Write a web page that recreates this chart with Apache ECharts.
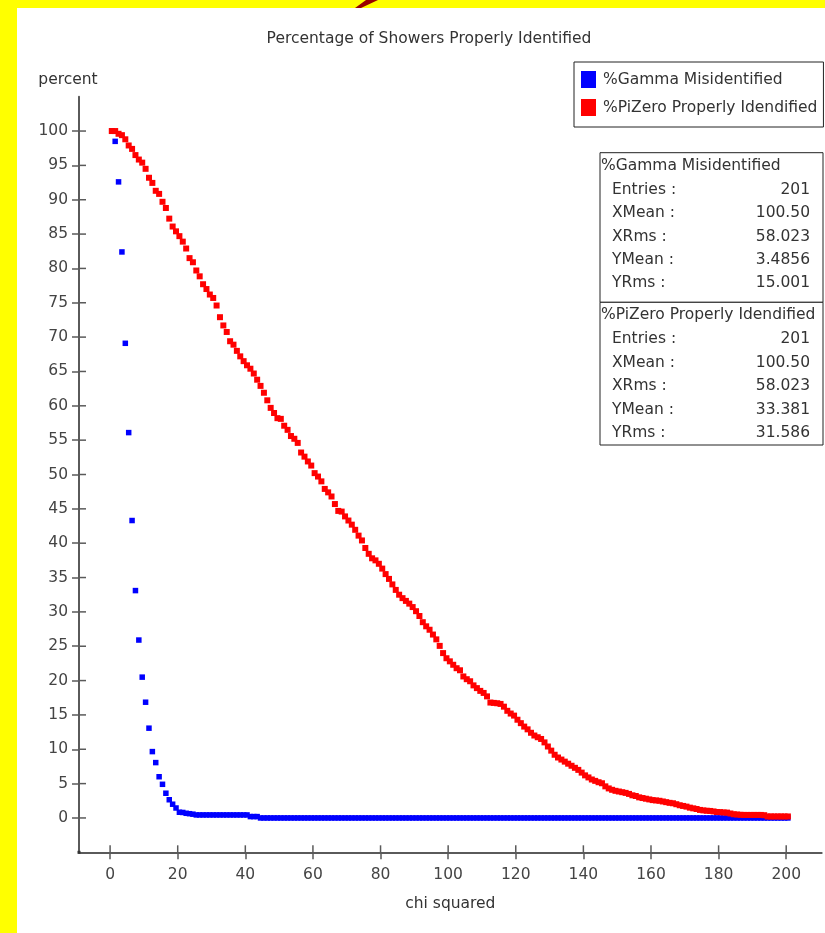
<!DOCTYPE html>
<html><head><meta charset="utf-8">
<script src="https://cdn.jsdelivr.net/npm/echarts@6/dist/echarts.min.js"></script>
<style>html,body{margin:0;padding:0;background:#fff}#c{width:825px;height:933px}</style>
</head><body><div id="c"></div>
<script>
const FONT = '"DejaVu Sans", sans-serif';
const FS = 15.5;

const chartTitle = 'Percentage of Showers Properly Identified';
const xAxisName = 'chi squared';
const yAxisName = 'percent';
const seriesNames = ['%Gamma Misidentified', '%PiZero Properly Idendified'];
const seriesColors = ['#0000ff', '#ff0000'];
const xTickValues = [0, 20, 40, 60, 80, 100, 120, 140, 160, 180, 200];
const yTickValues = [0, 5, 10, 15, 20, 25, 30, 35, 40, 45, 50, 55, 60, 65, 70, 75, 80, 85, 90, 95, 100];
const binStart = 0.5; // bin centres: 0.5, 1.5, ... 200.5

const gammaMisidentified = [
  100, 98.5, 92.6, 82.4, 69.1, 56.1, 43.3, 33.1, 25.9, 20.5,
  16.85, 13.07, 9.66, 8.06, 6.0, 4.9, 3.6, 2.65, 2.0, 1.45,
  0.83, 0.8, 0.68, 0.62, 0.55, 0.44, 0.44, 0.44, 0.44, 0.44,
  0.44, 0.44, 0.44, 0.44, 0.44, 0.44, 0.44, 0.44, 0.44, 0.44,
  0.44, 0.2, 0.2, 0.2, 0, 0, 0, 0, 0, 0,
  0, 0, 0, 0, 0, 0, 0, 0, 0, 0,
  0, 0, 0, 0, 0, 0, 0, 0, 0, 0,
  0, 0, 0, 0, 0, 0, 0, 0, 0, 0,
  0, 0, 0, 0, 0, 0, 0, 0, 0, 0,
  0, 0, 0, 0, 0, 0, 0, 0, 0, 0,
  0, 0, 0, 0, 0, 0, 0, 0, 0, 0,
  0, 0, 0, 0, 0, 0, 0, 0, 0, 0,
  0, 0, 0, 0, 0, 0, 0, 0, 0, 0,
  0, 0, 0, 0, 0, 0, 0, 0, 0, 0,
  0, 0, 0, 0, 0, 0, 0, 0, 0, 0,
  0, 0, 0, 0, 0, 0, 0, 0, 0, 0,
  0, 0, 0, 0, 0, 0, 0, 0, 0, 0,
  0, 0, 0, 0, 0, 0, 0, 0, 0, 0,
  0, 0, 0, 0, 0, 0, 0, 0, 0, 0,
  0, 0, 0, 0, 0, 0, 0, 0, 0, 0,
  0
];

const piZeroIdentified = [
  100, 100, 99.6, 99.4, 98.8, 97.9, 97.4, 96.5, 95.85, 95.4,
  94.5, 93.2, 92.45, 91.3, 90.85, 89.7, 88.8, 87.25, 86.1, 85.4,
  84.7, 83.9, 82.9, 81.5, 80.9, 79.7, 78.85, 77.7, 77.0, 76.2,
  75.7, 74.6, 72.9, 71.7, 70.75, 69.4, 68.9, 68.0, 67.2, 66.5,
  65.9, 65.4, 64.7, 63.8, 62.9, 61.9, 60.8, 59.7, 58.95, 58.2,
  58.1, 57.1, 56.5, 55.6, 55.2, 54.6, 53.2, 52.6, 51.9, 51.3,
  50.2, 49.7, 49.0, 47.9, 47.4, 46.8, 45.7, 44.7, 44.6, 43.9,
  43.3, 42.7, 41.95, 41.1, 40.4, 39.3, 38.45, 37.8, 37.5, 37.0,
  36.3, 35.5, 34.8, 34.0, 33.2, 32.5, 32.0, 31.6, 31.2, 30.7,
  30.1, 29.4, 28.5, 27.9, 27.4, 26.7, 26.0, 25.05, 24.0, 23.25,
  22.8, 22.3, 21.8, 21.5, 20.6, 20.2, 19.9, 19.3, 18.9, 18.5,
  18.2, 17.7, 16.8, 16.75, 16.7, 16.6, 16.2, 15.6, 15.2, 14.9,
  14.3, 13.8, 13.3, 12.9, 12.4, 12.0, 11.75, 11.5, 11.0, 10.4,
  9.8, 9.2, 8.8, 8.5, 8.2, 7.9, 7.6, 7.3, 7.0, 6.6,
  6.2, 5.9, 5.6, 5.4, 5.2, 5.05, 4.6, 4.3, 4.1, 3.95,
  3.85, 3.75, 3.65, 3.5, 3.3, 3.2, 3.0, 2.9, 2.8, 2.7,
  2.6, 2.55, 2.5, 2.4, 2.3, 2.2, 2.14, 2.0, 1.85, 1.75,
  1.65, 1.5, 1.4, 1.3, 1.17, 1.1, 1.05, 1.02, 0.95, 0.87,
  0.85, 0.8, 0.78, 0.65, 0.54, 0.5, 0.46, 0.44, 0.44, 0.44,
  0.44, 0.44, 0.44, 0.4, 0.22, 0.22, 0.22, 0.22, 0.22, 0.22,
  0.22
];

const statsGamma = [['Entries :', '201'], ['XMean :', '100.50'], ['XRms :', '58.023'], ['YMean :', '3.4856'], ['YRms :', '15.001']];
const statsPiZero = [['Entries :', '201'], ['XMean :', '100.50'], ['XRms :', '58.023'], ['YMean :', '33.381'], ['YRms :', '31.586']];

const toPoints = arr => arr.map((v, i) => [binStart + i, v]);

const X_MIN = -9.2, X_MAX = 210.5, Y_MIN = -5, Y_MAX = 105;
const G = { left: 79, top: 96.7, right: 3.3, bottom: 80.7 };
const AX_COLOR = '#5a5a5a';
const TXT = '#333';
const TICK_HALF = 7;

function statsBlock(title, rows, top, boxH, tag) {
  const els = [{
    type: 'rect', id: tag + 'box', shape: { x: 0, y: top, width: 223, height: boxH },
    style: { fill: '#fff', stroke: '#222', lineWidth: 1 }
  }, {
    type: 'text', id: tag + 'title', x: 1, y: top + 13, style: { text: title, font: FS + 'px ' + FONT, fill: TXT, textVerticalAlign: 'middle' }
  }];
  rows.forEach((r, k) => {
    const y = top + 37 + k * 23.4;
    els.push({ type: 'text', id: tag + 'l' + k, x: 12, y: y, style: { text: r[0], font: FS + 'px ' + FONT, fill: TXT, textVerticalAlign: 'middle' } });
    els.push({ type: 'text', id: tag + 'v' + k, x: 210, y: y, style: { text: r[1], font: FS + 'px ' + FONT, fill: TXT, textAlign: 'right', textVerticalAlign: 'middle' } });
  });
  return els;
}

const chart = echarts.init(document.getElementById('c'), null, { renderer: 'canvas' });

const baseGraphic = [
  { type: 'rect', id: 'yl', left: 0, top: 0, shape: { width: 17, height: 933 }, style: { fill: '#ffff00' }, z: 100 },
  { type: 'rect', id: 'yt', left: 0, top: 0, shape: { width: 825, height: 8 }, style: { fill: '#ffff00' }, z: 100 },
  { type: 'polygon', id: 'mark', x: 0, y: 0, shape: { points: [[366, 0], [378, 0], [361, 8], [355, 8]] }, style: { fill: '#990000' }, z: 101 },
  { type: 'group', id: 'stats', x: 600, y: 0, children: statsBlock(seriesNames[0], statsGamma, 152.7, 149.6, 'g').concat(statsBlock(seriesNames[1], statsPiZero, 302.3, 142.7, 'p')) }
];

chart.setOption({
  backgroundColor: '#fff',
  animation: false,
  title: {
    text: chartTitle, left: 424, top: 26, textAlign: 'center',
    textStyle: { fontFamily: FONT, fontSize: FS, fontWeight: 'normal', color: TXT }
  },
  legend: {
    data: seriesNames, orient: 'vertical', left: 574, top: 62,
    icon: 'rect', itemWidth: 15, itemHeight: 17, itemGap: 11,
    padding: [9, 6, 11, 7], borderColor: '#222', borderWidth: 1, backgroundColor: '#fff',
    textStyle: { fontFamily: FONT, fontSize: FS, color: TXT, padding: [0, 0, 0, 2] }
  },
  grid: G,
  xAxis: {
    type: 'value', min: X_MIN, max: X_MAX, splitLine: { show: false },
    name: xAxisName, nameLocation: 'middle', nameGap: 44,
    nameTextStyle: { fontFamily: FONT, fontSize: FS, color: TXT },
    axisLine: { show: true, onZero: false, lineStyle: { color: AX_COLOR, width: 2 } },
    axisTick: { show: true, inside: false, length: TICK_HALF, customValues: xTickValues, lineStyle: { color: AX_COLOR, width: 1.5 } },
    axisLabel: { customValues: xTickValues, margin: 15, fontFamily: FONT, fontSize: FS, color: '#444' }
  },
  yAxis: {
    type: 'value', min: Y_MIN, max: Y_MAX, splitLine: { show: false },
    name: yAxisName, nameLocation: 'end', nameGap: 9,
    nameTextStyle: { fontFamily: FONT, fontSize: FS, color: TXT, align: 'center', padding: [0, 22, 0, 0] },
    axisLine: { show: true, onZero: false, lineStyle: { color: AX_COLOR, width: 2 } },
    axisTick: { show: true, inside: false, length: TICK_HALF, customValues: yTickValues, lineStyle: { color: AX_COLOR, width: 1.5 } },
    axisLabel: { customValues: yTickValues, margin: 11, fontFamily: FONT, fontSize: FS, color: '#444' }
  },
  series: [
    {
      name: seriesNames[0], type: 'scatter',
      symbol: 'rect', symbolSize: 5.5, data: toPoints(gammaMisidentified),
      itemStyle: { color: seriesColors[0], opacity: 1 }
    },
    {
      name: seriesNames[1], type: 'scatter',
      symbol: 'rect', symbolSize: 6, data: toPoints(piZeroIdentified),
      itemStyle: { color: seriesColors[1], opacity: 1 }
    }
  ],
  graphic: baseGraphic
});

// inner halves of the crossing tick marks, placed through the axis scales
const tickEls = [];
xTickValues.forEach((v, k) => {
  const p = chart.convertToPixel({ gridIndex: 0 }, [v, Y_MIN]);
  tickEls.push({ type: 'line', id: 'xt' + k, shape: { x1: p[0], y1: p[1] - TICK_HALF, x2: p[0], y2: p[1] }, style: { stroke: AX_COLOR, lineWidth: 1.5 }, z: 60 });
});
yTickValues.forEach((v, k) => {
  const p = chart.convertToPixel({ gridIndex: 0 }, [X_MIN, v]);
  tickEls.push({ type: 'line', id: 'yt' + k, shape: { x1: p[0], y1: p[1], x2: p[0] + TICK_HALF, y2: p[1] }, style: { stroke: AX_COLOR, lineWidth: 1.5 }, z: 60 });
});
const corner = chart.convertToPixel({ gridIndex: 0 }, [X_MIN, Y_MIN]);
tickEls.push({ type: 'rect', id: 'corner', shape: { x: corner[0] - 1.5, y: corner[1] - 1.5, width: 3, height: 3 }, style: { fill: '#333' }, z: 61 });
chart.setOption({ graphic: baseGraphic.concat(tickEls) });
</script>
</body></html>
